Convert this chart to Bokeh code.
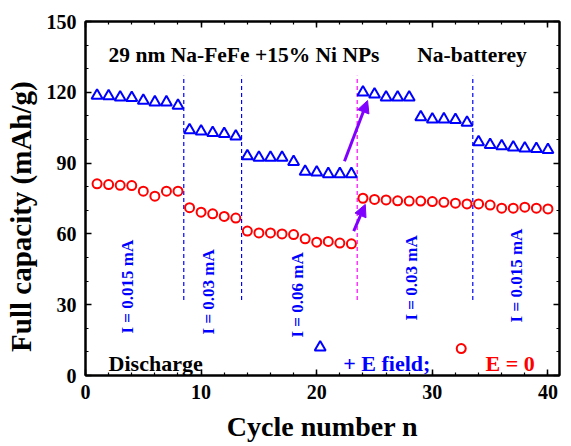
import numpy as np
from bokeh.plotting import figure
from bokeh.models import (Range1d, LinearAxis, SingleIntervalTicker, Label, Arrow,
                          NormalHead, ColumnDataSource, CustomJSTickFormatter)
from bokeh.core.properties import value
from bokeh.embed import file_html
from bokeh.resources import INLINE

# ---------------- data ----------------
cycles = list(range(1, 41))
e_field = [118.6, 118.4, 117.9, 117.7, 116.5, 115.8, 115.8, 114.4,
           104.0, 103.5, 102.8, 102.4, 101.3,
           93.0, 92.3, 92.3, 92.3, 90.5,
           86.4, 86.1, 85.4, 85.4, 85.4,
           120.0, 119.1, 117.9, 117.9, 117.9,
           109.5, 108.5, 108.6, 108.3, 107.2,
           98.9, 97.7, 97.2, 96.7, 96.3, 96.0, 95.6]
e_zero = [81.2, 80.9, 80.6, 80.5, 78.1, 76.0, 78.1, 78.1,
          71.1, 69.2, 68.5, 67.4, 66.7,
          61.2, 60.4, 60.4, 60.0, 59.7,
          57.9, 56.5, 56.8, 56.1, 55.8,
          75.1, 74.6, 74.4, 74.0, 73.9, 73.9, 73.7, 73.4, 73.0, 72.7,
          72.7, 72.2, 70.9, 70.9, 71.3, 70.9, 70.6]
boundaries = [8.5, 13.5, 23.5, 33.5]
boundary_colors = ["#0000ff", "#0000ff", "#ff00ff", "#0000ff"]
current_labels = ["I = 0.015 mA", "I = 0.03 mA", "I = 0.06 mA", "I = 0.03 mA", "I = 0.015 mA"]
current_x = [3.64, 10.65, 18.3, 28.2, 37.3]
current_y = [17.8, 17.4, 16.1, 23.3, 22.5]

FONT = "Liberation Serif"
BLUE = "#0000ff"
RED = "#ff0000"
PURPLE = "#8000ff"

p = figure(width=571, height=446, output_backend="svg", toolbar_location=None,
           x_range=Range1d(0, 41), y_range=Range1d(0, 150),
           min_border_left=85, min_border_right=12, min_border_top=21, min_border_bottom=71)
p.xgrid.visible = False
p.ygrid.visible = False
p.outline_line_color = "black"
p.outline_line_width = 2
p.background_fill_color = "white"
p.border_fill_color = "white"

p.xaxis.ticker = SingleIntervalTicker(interval=10, num_minor_ticks=5)
p.yaxis.ticker = SingleIntervalTicker(interval=30, num_minor_ticks=3)

def style_axis(ax, show_labels=True):
    ax.axis_line_width = 2
    ax.axis_line_color = "black"
    ax.major_tick_in = 6
    ax.major_tick_out = 0
    ax.minor_tick_in = 3
    ax.minor_tick_out = 0
    ax.major_tick_line_width = 1.5
    ax.minor_tick_line_width = 1.2
    ax.major_label_text_font = FONT
    ax.major_label_text_font_style = "bold"
    ax.major_label_text_font_size = "20px"
    ax.major_label_text_color = "black"
    ax.major_label_standoff = 9
    ax.axis_label_text_font = FONT
    ax.axis_label_text_font_style = "bold"
    ax.axis_label_text_color = "black"
    if not show_labels:
        ax.formatter = CustomJSTickFormatter(code="return ''")
        ax.major_label_standoff = 0

style_axis(p.xaxis[0])
style_axis(p.yaxis[0])

p.xaxis.axis_label = "Cycle number n"
p.xaxis.axis_label_text_font_size = "28px"
p.xaxis.axis_label_standoff = 9
p.yaxis.axis_label = "Full capacity (mAh/g)" + "\u00a0" * 5
p.yaxis.axis_label_text_font_size = "29px"
p.yaxis.axis_label_standoff = 7

top_ax = LinearAxis(ticker=SingleIntervalTicker(interval=10, num_minor_ticks=5))
right_ax = LinearAxis(ticker=SingleIntervalTicker(interval=30, num_minor_ticks=3))
style_axis(top_ax, False)
style_axis(right_ax, False)
p.add_layout(top_ax, "above")
p.add_layout(right_ax, "right")

# boundary dashed lines
p.segment(x0=boundaries, y0=[32] * 4, x1=boundaries, y1=[127] * 4,
          line_color=boundary_colors, line_dash="4 3", line_width=1.2)

# data
p.scatter(cycles, e_field, marker="triangle", size=11, line_color=BLUE,
          fill_color=None, line_width=2)
p.scatter(cycles, e_zero, marker="circle", size=9, line_color=RED,
          fill_color=None, line_width=2)

# arrows
p.add_layout(Arrow(end=NormalHead(size=12, fill_color=PURPLE, line_color=PURPLE),
                   x_start=22.4, y_start=90.8, x_end=24.4, y_end=116.5,
                   line_color=PURPLE, line_width=3))
p.add_layout(Arrow(end=NormalHead(size=12, fill_color=PURPLE, line_color=PURPLE),
                   x_start=23.2, y_start=61.2, x_end=24.2, y_end=72.5,
                   line_color=PURPLE, line_width=3))

# current labels (vertical)
src = ColumnDataSource(dict(x=current_x, y=current_y, t=current_labels))
p.text(x="x", y="y", text="t", source=src, angle=np.pi / 2,
       text_align="left", text_baseline="middle", text_color=BLUE,
       text_font=value(FONT), text_font_style="bold", text_font_size="17px")

def add_label(text, x, y, color="black", size="21.5px", style="bold", align="left",
              baseline="alphabetic", angle=0):
    p.add_layout(Label(x=x, y=y, text=text, text_color=color, text_font=FONT,
                       text_font_size=size, text_font_style=style, text_align=align,
                       text_baseline=baseline, angle=angle))

add_label("29 nm Na-FeFe +15% Ni NPs", 2.0, 136)
add_label("Na-batterey", 28.7, 136)
add_label("Discharge", 2.0, 5.1, size="22px")
add_label("+ E field;", 22.3, 5.1, color=BLUE, size="22px")
add_label("E = 0", 34.6, 5.1, color=RED, size="22px")

# legend markers
p.scatter([20.3], [11.9], marker="triangle", size=11, line_color=BLUE,
          fill_color=None, line_width=2)
p.scatter([32.5], [11.4], marker="circle", size=9, line_color=RED,
          fill_color=None, line_width=2)

open("out.html", "w").write(file_html(p, INLINE))
